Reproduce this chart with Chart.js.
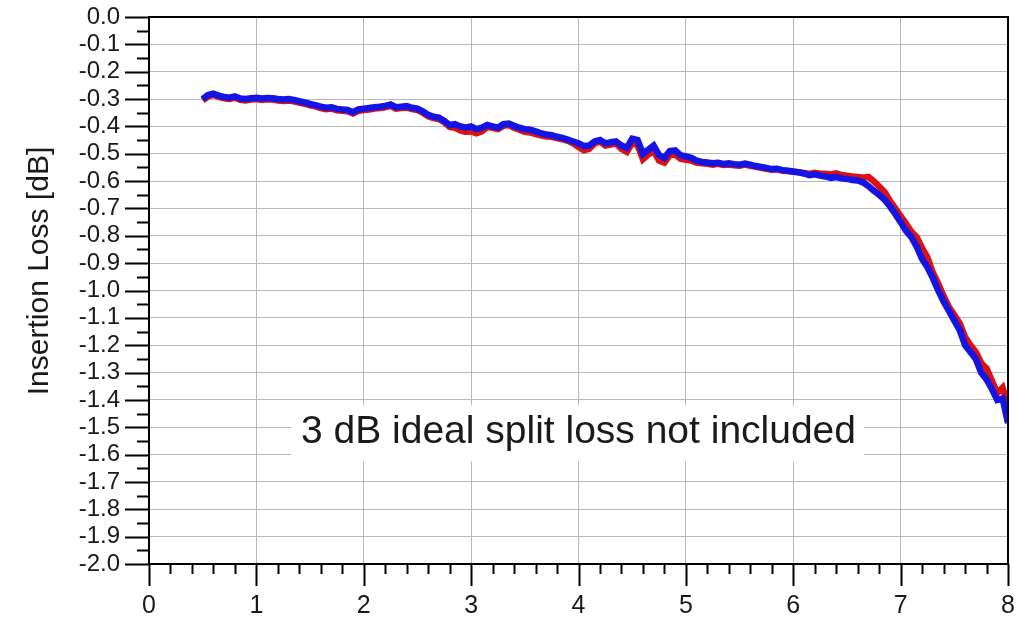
<!DOCTYPE html>
<html>
<head>
<meta charset="utf-8">
<title>Insertion Loss</title>
<script src="https://cdn.jsdelivr.net/npm/chart.js@4.4.1/dist/chart.umd.min.js"></script>
<style>
  html, body { margin: 0; padding: 0; background: #ffffff; }
  #wrap { width: 1017px; height: 623px; }
</style>
</head>
<body>
<div id="wrap"><canvas id="lossChart" width="1017" height="623"></canvas></div>
<script>
// Données (fréquence en GHz, pertes en dB)
const freq = [
  0.50, 0.55, 0.60, 0.65, 0.70, 0.75, 0.80, 0.85, 0.90, 0.95,
  1.00, 1.05, 1.10, 1.15, 1.20, 1.25, 1.30, 1.35, 1.40, 1.45,
  1.50, 1.55, 1.60, 1.65, 1.70, 1.75, 1.80, 1.85, 1.90, 1.95,
  2.00, 2.05, 2.10, 2.15, 2.20, 2.25, 2.30, 2.35, 2.40, 2.45,
  2.50, 2.55, 2.60, 2.65, 2.70, 2.75, 2.80, 2.85, 2.90, 2.95,
  3.00, 3.05, 3.10, 3.15, 3.20, 3.25, 3.30, 3.35, 3.40, 3.45,
  3.50, 3.55, 3.60, 3.65, 3.70, 3.75, 3.80, 3.85, 3.90, 3.95,
  4.00, 4.05, 4.10, 4.15, 4.20, 4.25, 4.30, 4.35, 4.40, 4.45,
  4.50, 4.55, 4.60, 4.65, 4.70, 4.75, 4.80, 4.85, 4.90, 4.95,
  5.00, 5.05, 5.10, 5.15, 5.20, 5.25, 5.30, 5.35, 5.40, 5.45,
  5.50, 5.55, 5.60, 5.65, 5.70, 5.75, 5.80, 5.85, 5.90, 5.95,
  6.00, 6.05, 6.10, 6.15, 6.20, 6.25, 6.30, 6.35, 6.40, 6.45,
  6.50, 6.55, 6.60, 6.65, 6.70, 6.75, 6.80, 6.85, 6.90, 6.95,
  7.00, 7.05, 7.10, 7.15, 7.20, 7.25, 7.30, 7.35, 7.40, 7.45,
  7.50, 7.55, 7.60, 7.65, 7.70, 7.75, 7.80, 7.85, 7.90, 7.95,
  8.00
]

const lossRed = [
  -0.305, -0.290, -0.285, -0.292, -0.297, -0.300, -0.295, -0.303, -0.305, -0.302,
  -0.300, -0.303, -0.301, -0.302, -0.305, -0.307, -0.305, -0.308, -0.313, -0.317,
  -0.323, -0.327, -0.333, -0.337, -0.335, -0.341, -0.343, -0.345, -0.353, -0.343,
  -0.340, -0.338, -0.335, -0.333, -0.330, -0.325, -0.335, -0.333, -0.331, -0.337,
  -0.340, -0.350, -0.363, -0.370, -0.373, -0.385, -0.402, -0.405, -0.415, -0.420,
  -0.418, -0.425, -0.418, -0.402, -0.405, -0.410, -0.398, -0.395, -0.405, -0.412,
  -0.420, -0.422, -0.428, -0.433, -0.437, -0.438, -0.443, -0.447, -0.453, -0.462,
  -0.475, -0.487, -0.482, -0.462, -0.456, -0.470, -0.466, -0.462, -0.482, -0.493,
  -0.460, -0.468, -0.520, -0.503, -0.490, -0.525, -0.532, -0.505, -0.503, -0.518,
  -0.522, -0.525, -0.532, -0.535, -0.537, -0.540, -0.537, -0.541, -0.539, -0.542,
  -0.544, -0.540, -0.544, -0.548, -0.551, -0.555, -0.558, -0.557, -0.562, -0.563,
  -0.566, -0.568, -0.570, -0.574, -0.570, -0.573, -0.573, -0.576, -0.572, -0.578,
  -0.580, -0.583, -0.585, -0.588, -0.585, -0.600, -0.620, -0.640, -0.672, -0.700,
  -0.728, -0.755, -0.785, -0.805, -0.845, -0.880, -0.935, -0.975, -1.020, -1.060,
  -1.090, -1.120, -1.170, -1.200, -1.225, -1.265, -1.285, -1.330, -1.375, -1.355,
  -1.420
]

const lossBlue = [
  -0.300, -0.285, -0.280, -0.288, -0.292, -0.295, -0.290, -0.298, -0.300, -0.297,
  -0.295, -0.298, -0.296, -0.297, -0.300, -0.302, -0.300, -0.303, -0.308, -0.312,
  -0.318, -0.322, -0.328, -0.332, -0.330, -0.336, -0.338, -0.340, -0.348, -0.338,
  -0.335, -0.333, -0.330, -0.328, -0.325, -0.320, -0.330, -0.328, -0.326, -0.332,
  -0.335, -0.345, -0.358, -0.365, -0.368, -0.380, -0.395, -0.392, -0.400, -0.405,
  -0.400, -0.410, -0.405, -0.395, -0.400, -0.405, -0.392, -0.390, -0.398, -0.405,
  -0.410, -0.412, -0.418, -0.425, -0.430, -0.432, -0.438, -0.442, -0.448, -0.455,
  -0.462, -0.472, -0.470, -0.455, -0.450, -0.462, -0.458, -0.455, -0.470, -0.478,
  -0.445, -0.450, -0.500, -0.485, -0.470, -0.505, -0.515, -0.490, -0.488, -0.505,
  -0.510, -0.515, -0.525, -0.530, -0.532, -0.535, -0.533, -0.537, -0.535, -0.538,
  -0.540, -0.536, -0.540, -0.545, -0.548, -0.552, -0.556, -0.555, -0.560, -0.562,
  -0.565, -0.568, -0.572, -0.578, -0.575, -0.580, -0.583, -0.588, -0.585, -0.590,
  -0.592, -0.596, -0.598, -0.605, -0.618, -0.635, -0.650, -0.668, -0.692, -0.720,
  -0.750, -0.782, -0.805, -0.840, -0.885, -0.915, -0.955, -1.000, -1.040, -1.075,
  -1.110, -1.145, -1.200, -1.225, -1.250, -1.300, -1.325, -1.360, -1.400, -1.395,
  -1.485
]

// Étiquettes des axes
const xTickLabels = ["0", "1", "2", "3", "4", "5", "6", "7", "8"]
const yTitle = "Insertion Loss [dB]"
const noteText = "3 dB ideal split loss not included"

const fontFamily = "'Liberation Sans', Arial, sans-serif"
const textColor = "#1a1a1a"
const gridColor = "#b8b8b8"

function toPoints(xs, ys) {
  return xs.map((x, i) => ({ x: x, y: ys[i] }))
}

// On fixe la taille des axes pour retrouver la zone de tracé d'origine
function fixScale(scale, size) {
  if (scale.isHorizontal()) {
    scale.height = size
  } else {
    scale.width = size
  }
  scale.paddingTop = 0
  scale.paddingBottom = 0
  scale.paddingLeft = 0
  scale.paddingRight = 0
}

// Cadre, graduations mineures/majeures, titre et note
const decorPlugin = {
  id: "decor",
  beforeDatasetsDraw(chart) {
    const ctx = chart.ctx
    const xs = chart.scales.x
    const ys = chart.scales.y
    // boîte blanche derrière la note
    const left = xs.getPixelForValue(1.32)
    const right = xs.getPixelForValue(6.66)
    const top = ys.getPixelForValue(-1.42)
    const bottom = ys.getPixelForValue(-1.625)
    ctx.save()
    ctx.fillStyle = "#ffffff"
    ctx.fillRect(left, top, right - left, bottom - top)
    ctx.fillStyle = textColor
    ctx.font = "39px " + fontFamily
    ctx.textAlign = "center"
    ctx.textBaseline = "middle"
    ctx.fillText(noteText, xs.getPixelForValue(4.0), ys.getPixelForValue(-1.52))
    ctx.restore()
  },
  afterDraw(chart) {
    const ctx = chart.ctx
    const area = chart.chartArea
    const xs = chart.scales.x
    const ys = chart.scales.y
    ctx.save()
    ctx.strokeStyle = "#000000"
    ctx.lineWidth = 2
    ctx.strokeRect(area.left, area.top, area.right - area.left, area.bottom - area.top)

    ctx.beginPath()
    // graduations de l'axe Y : 0.05 dB
    for (let i = 0; i <= 40; i++) {
      const py = Math.round(ys.getPixelForValue(-i * 0.05)) + 0.5
      const len = i % 2 === 0 ? 24 : 12
      ctx.moveTo(area.left - len, py)
      ctx.lineTo(area.left, py)
    }
    // graduations de l'axe X : 0.2 GHz
    for (let i = 0; i <= 40; i++) {
      const px = Math.round(xs.getPixelForValue(i * 0.2)) + 0.5
      const len = i % 5 === 0 ? 22 : 10
      ctx.moveTo(px, area.bottom)
      ctx.lineTo(px, area.bottom + len)
    }
    ctx.stroke()

    // titre de l'axe Y
    ctx.fillStyle = textColor
    ctx.font = "30px " + fontFamily
    ctx.textAlign = "center"
    ctx.textBaseline = "middle"
    ctx.translate(40, 271)
    ctx.rotate(-Math.PI / 2)
    ctx.fillText(yTitle, 0, 0)
    ctx.restore()
  }
}

function initializeChart() {
  const canvas = document.getElementById("lossChart")
  new Chart(canvas, {
    type: "scatter",
    data: {
      datasets: [
        {
          label: "S21",
          data: toPoints(freq, lossRed),
          showLine: true,
          borderColor: "#dc1212",
          borderWidth: 6.5,
          pointRadius: 0,
          tension: 0,
          order: 1,
        },
        {
          label: "S31",
          data: toPoints(freq, lossBlue),
          showLine: true,
          borderColor: "#1414e4",
          borderWidth: 6.5,
          pointRadius: 0,
          tension: 0,
          order: 0,
        },
      ],
    },
    options: {
      responsive: false,
      animation: false,
      layout: {
        padding: { top: 17, right: 9, left: 0, bottom: 0 },
      },
      plugins: {
        legend: { display: false },
        tooltip: { enabled: false },
      },
      scales: {
        x: {
          type: "linear",
          min: 0,
          max: 8,
          afterFit: (scale) => fixScale(scale, 59),
          border: { display: false },
          grid: { color: gridColor, lineWidth: 1, drawTicks: false },
          ticks: {
            stepSize: 1,
            padding: 27,
            maxRotation: 0,
            autoSkip: false,
            color: textColor,
            font: { family: fontFamily, size: 25 },
            callback: (v) => xTickLabels[Math.round(v)],
          },
        },
        y: {
          type: "linear",
          min: -2,
          max: 0,
          afterFit: (scale) => fixScale(scale, 149),
          border: { display: false },
          grid: { color: gridColor, lineWidth: 1, drawTicks: false },
          ticks: {
            stepSize: 0.1,
            padding: 29,
            autoSkip: false,
            color: textColor,
            font: { family: fontFamily, size: 24 },
            callback: (v) => (Math.abs(v) < 1e-9 ? "0.0" : v.toFixed(1)),
          },
        },
      },
    },
    plugins: [decorPlugin],
  })
}

document.addEventListener("DOMContentLoaded", initializeChart)
</script>
</body>
</html>
